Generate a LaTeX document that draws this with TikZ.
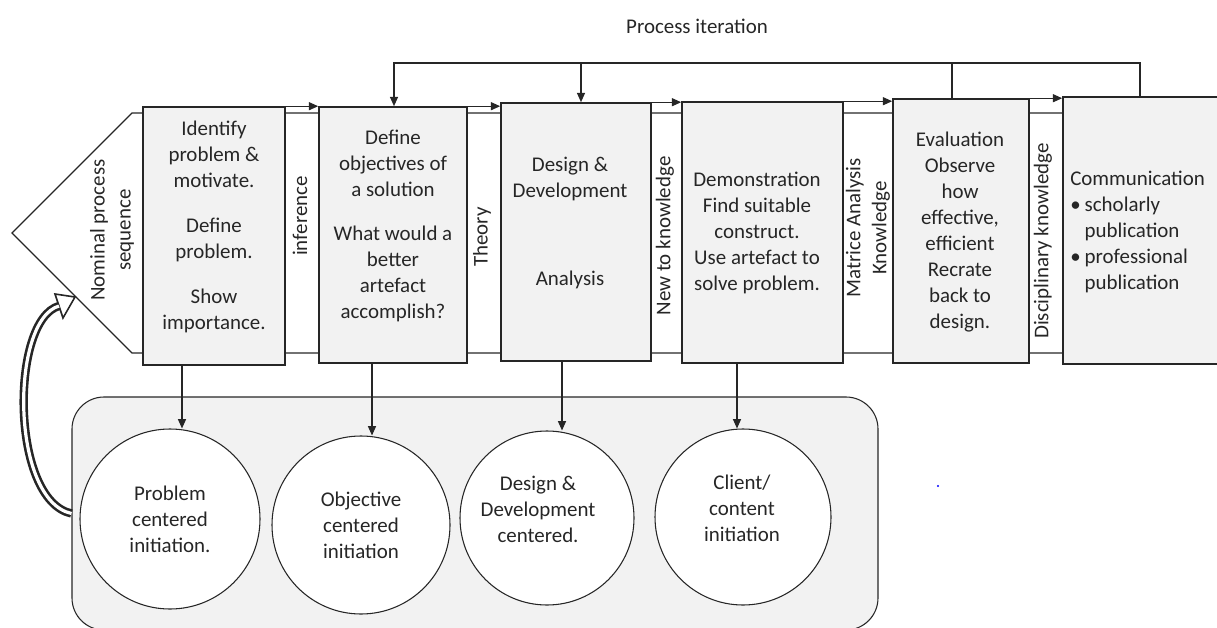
\documentclass[tikz,border=0pt]{standalone}
\usepackage{fontspec}
\setmainfont{Carlito}
\usetikzlibrary{arrows.meta,fit,calc}
\definecolor{boxgray}{HTML}{F2F2F2}
\definecolor{ink}{HTML}{262626}
\begin{document}
\begin{tikzpicture}[x=0.75pt,y=-0.75pt,
  font=\fontsize{15.7}{19.5}\selectfont,
  box/.style={draw=ink, line width=1.2pt, fill=boxgray, inner sep=0pt},
  band/.style={draw=ink, line width=0.8pt},
  conn/.style={draw=ink, line width=1pt},
  arr/.style={draw=ink, line width=1pt, -{Triangle[length=7pt,width=6pt]}},
  txt/.style={align=center, inner sep=0pt, text=ink},
  vlab/.style={rotate=90, align=center, inner sep=0pt, text=ink},
  circ/.style={circle, draw=ink, line width=0.8pt, fill=white, inner sep=0pt, align=center, text=ink}]
\useasboundingbox (0,0) rectangle (1217,628);

% background rounded panel
\node[fit={(72,397) (878,630)}, inner sep=0pt, draw=ink, line width=0.8pt, fill=boxgray, rounded corners=24pt] (bg) {};

% chevron and band
\coordinate (chT) at (132,113);
\coordinate (chTip) at (12,233);
\coordinate (chB) at (132,353);
\coordinate (bandTR) at (1100,113);
\coordinate (bandBR) at (1100,353);
\draw[band] (bandTR) -- (chT) -- (chTip) -- (chB) -- (bandBR);

% process boxes
\node[box, fit={(143,107) (285,365)}] (b1) {};
\node[box, fit={(319,107) (467,363)}] (b2) {};
\node[box, fit={(501,103) (651,361)}] (b3) {};
\node[box, fit={(682,102) (843,363)}] (b4) {};
\node[box, fit={(893,99) (1029,363)}] (b5) {};
\node[box, fit={(1063,97) (1240,364)}] (b6) {};

% box texts
\node[txt] (t1) at (214,227) {Identify\\problem \&\\motivate.\\[14pt]Define\\problem.\\[14pt]Show\\importance.};
\node[txt] (t2) at (393,226) {Define\\objectives of\\a solution\\[14pt]What would a\\better\\artefact\\accomplish?};
\node[txt] (t3) at (570,223) {Design \&\\Development\\[46pt]Analysis};
\node[txt] (t4) at (757,233) {Demonstration\\Find suitable\\construct.\\Use artefact to\\solve problem.};
\node[txt] (t5) at (960,232) {Evaluation\\Observe\\how\\effective,\\efficient\\Recrate\\back to\\design.};
\node[inner sep=0pt, anchor=west, text=ink] (t6) at (1070,232) {\begin{tabular}{@{}l@{\hspace{3pt}}l@{}}
\multicolumn{2}{@{}l@{}}{Communication}\\
\textbullet & scholarly\\
 & publication\\
\textbullet & professional\\
 & publication
\end{tabular}};

% vertical labels
\node[vlab] (nom) at (112,230) {Nominal process\\sequence};
\node[vlab] (inf) at (300,216) {inference};
\node[vlab] (theo) at (482,237) {Theory};
\node[vlab] (newk) at (665,236) {New to knowledge};
\node[vlab] (mat) at (868,228) {Matrice Analysis\\Knowledge};
\node[vlab] (disc) at (1043,241) {Disciplinary knowledge};

% forward arrows along top
\draw[arr] (b1.north east) -- (b1.north east -| b2.west);
\draw[arr] (b2.north east) -- (b2.north east -| b3.west);
\draw[arr] (b3.north east) -- (b3.north east -| b4.west);
\draw[arr] (b4.north east) -- (b4.north east -| b5.west);
\draw[arr] (b5.north east) -- (b5.north east -| b6.west);

% process iteration loop
\node[txt] (pi) at (697,26) {Process iteration};
\coordinate (fL) at (394,63);
\coordinate (f3) at (581,63);
\coordinate (f5) at (952,63);
\coordinate (fR) at (1140,63);
\draw[arr] (fR |- b6.north) -- (fR) -- (fL) -- (fL |- b2.north);
\draw[arr] (f3) -- (f3 |- b3.north);
\draw[conn] (f5) -- (f5 |- b5.north);

% circles
\node[circ, minimum size=135pt] (c1) at (170,519) {Problem\\centered\\initiation.};
\node[circ, minimum size=133.5pt] (c2) at (361,525) {Objective\\centered\\initiation};
\node[circ, minimum size=130.5pt] (c3) at (547,518) {};
\node[txt] (c3t) at (538,509) {Design \&\\Development\\centered.};
\node[circ, minimum size=132pt] (c4) at (743,517) {};
\node[txt] (c4t) at (742,508) {Client/\\content\\initiation};

% down arrows
\coordinate (a1) at (182,0);
\coordinate (a2) at (372,0);
\coordinate (a3) at (562,0);
\coordinate (a4) at (737,0);
\draw[arr] (b1.south -| a1) -- (a1 |- c1.north);
\draw[arr] (b2.south -| a2) -- (a2 |- c2.north);
\draw[arr] (b3.south -| a3) -- (a3 |- c3.north);
\draw[arr] (b4.south -| a4) -- (a4 |- c4.north);

% curved block arrow back to the nominal sequence
\coordinate (hB) at (59,306);
\draw[fill=white, draw=ink, line width=1.2pt, line join=miter] (55,294) -- (75,297) -- (63,318) -- cycle;
\draw[ink, line width=6.3pt] (bg.west) .. controls (10,500) and (10,320) .. (hB);
\draw[white, line width=2.4pt] (bg.west) .. controls (10,500) and (10,320) .. (hB);

% stray dot
\fill[blue] (938,486) circle (0.9pt);
\end{tikzpicture}
\end{document}
